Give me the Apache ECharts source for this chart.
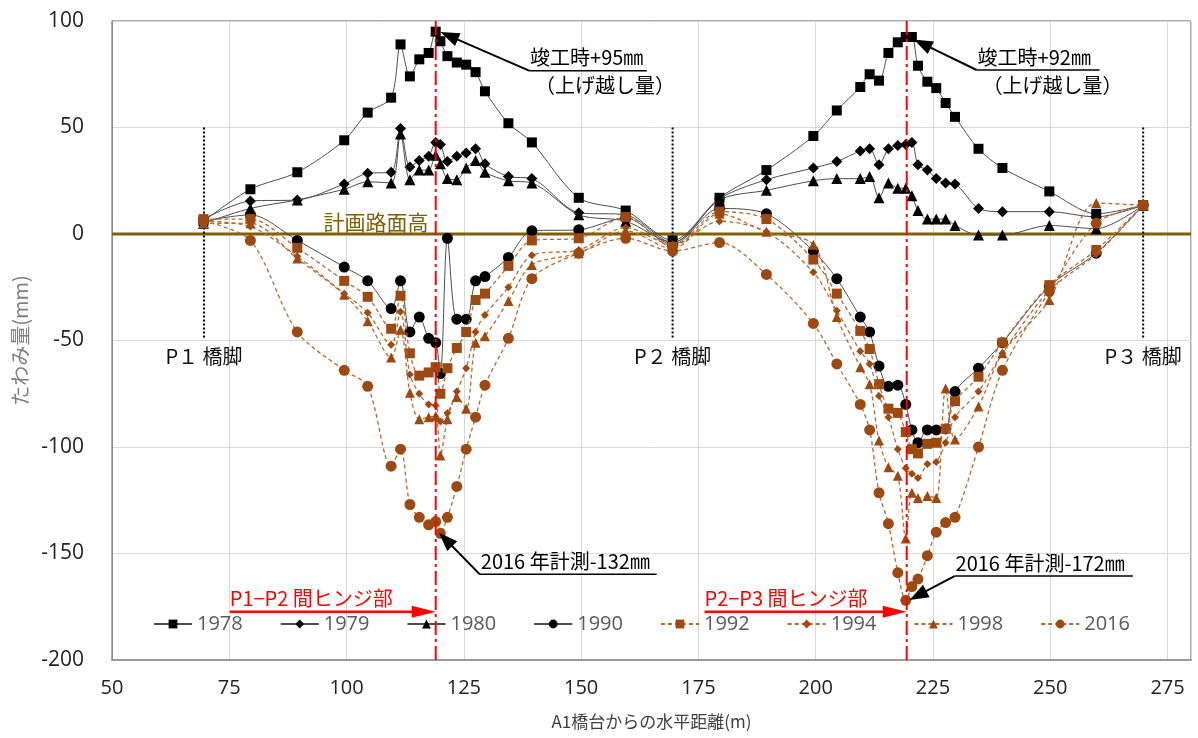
<!DOCTYPE html>
<html><head><meta charset="utf-8">
<script src="https://cdn.jsdelivr.net/npm/echarts@6/dist/echarts.min.js"></script>
<style>html,body{margin:0;padding:0;background:#fff}#c{width:1198px;height:738px}</style>
</head><body><div id="c"></div>
<script>
// ---- data ----
const xs = [69.5, 79.5, 89.5, 99.5, 104.5, 109.5, 111.5, 113.5, 115.5, 117.5, 119, 120, 121.5, 123.5, 125.5, 127.5, 129.5, 134.5, 139.5, 149.5, 159.5, 169.5, 179.5, 189.5, 199.5, 204.5, 209.5, 211.5, 213.5, 215.5, 217.5, 219.2, 220.5, 221.8, 223.8, 225.7, 227.7, 229.7, 234.7, 239.8, 249.8, 259.8, 269.8];
const y1978 = [6, 21, 29, 44, 57, 64, 89, 74, 82, 85, 95, 90.5, 83.5, 80.5, 79.5, 76, 67, 52, 43, 17, 11, -3, 17, 30, 46, 58, 69, 75, 72, 85, 90, 92.5, 92.5, 79, 71.5, 68.5, 61.5, 55, 40, 31, 20, 9.5, 13.5];
const y1979 = [7, 15.5, 16, 23.5, 28.5, 29, 49.5, 31.5, 34.5, 36.5, 43, 42, 34, 36.5, 38, 40, 33, 27, 26, 10, 9, -4, 16.5, 25.5, 31, 34, 39, 40, 32.5, 40, 41.5, 42, 43, 32.5, 30, 26, 24, 23.5, 12, 10.5, 10.5, 8, 13.5];
const y1980 = [5, 12, 16, 21, 24.5, 24, 47, 25.5, 30, 30, 37, 33, 26, 25.5, 31, 34.5, 29, 25, 24, 9, 6, -4, 16, 20.5, 25, 26, 26, 27, 17, 24, 21.5, 21.5, 18, 11, 7, 7, 7, 4, -0.5, -0.5, 4, 2.5, 13.5];
const y1990 = [6, 9, -3, -15.5, -22, -35, -22, -46, -39, -49, -51, -65.5, -2, -40, -40, -22, -20, -11, 1.5, 2, 7.5, -5, 12, 9.5, -8, -21, -39, -46, -62, -71.5, -71, -80, -92, -98, -92, -92, -91.5, -74, -63, -51, -24.5, -9, 13.5];
const y1992 = [7, 7, -6.5, -22, -29.5, -44.5, -29, -56, -66.5, -65, -62.5, -75, -63, -53.5, -46, -31, -28, -15, -3, -2, 8, -6, 10.5, 7, -12, -28, -45.5, -54, -70.5, -82, -84, -93, -101, -103, -98.5, -98, -91.5, -78.5, -67, -51, -24, -7.5, 13.5];
const y1994 = [6, 3.5, -10.5, -28, -37, -52, -36.5, -66, -75, -80, -80.5, -88, -84, -74, -63, -46, -38, -25, -10, -7.5, 3, -5, 6, 1, -18, -36, -55, -61, -76, -86, -101, -110, -112.5, -114.5, -108, -107, -98, -86, -74, -56, -26.5, -9.5, 13.5];
const y1998 = [5, 5, -11.5, -28.5, -41, -58, -45, -74.5, -87, -86, -85.5, -104, -87, -76.5, -82, -51, -48, -31.5, -14.5, -9, 1.5, -7, 9.5, 1, -5, -39, -62.5, -70.5, -97, -109.5, -113.5, -143, -121.5, -124, -123, -124, -72.5, -96.5, -81, -56, -31, 14.5, 13.5];
const y2016 = [6, -3, -46, -64, -71.5, -109, -101, -127, -133, -136.5, -135, -140.5, -133, -118.5, -101, -86, -71, -49, -21, -9, -2, -8, -4, -19, -42, -61, -80, -92, -121.5, -136, -159, -172, -165.5, -162, -151, -140, -135.5, -133, -100, -64, -27, 5, 13.5];
const years = ['1978', '1979', '1980', '1990', '1992', '1994', '1998', '2016'];
const piers = [{x: 69.6, label: 'P１ 橋脚'}, {x: 169.5, label: 'P２ 橋脚'}, {x: 269.8, label: 'P３ 橋脚'}];
const hinges = [119, 219.4];
const xMin = 50, xMax = 280, xStep = 25;
const yMin = -200, yMax = 100, yStep = 50;

const allY = [y1978, y1979, y1980, y1990, y1992, y1994, y1998, y2016];
const symbols = ['rect', 'diamond', 'triangle', 'circle', 'rect', 'diamond', 'triangle', 'circle'];
const sizes = [10, 11, 11, 11, 10, 8, 10, 11];

const BLACK = '#000000', BLINE = '#4d4d4d', BROWN = '#9c4a12', BRLINE = '#b8682f';
const CJK = '"Noto Sans CJK JP", sans-serif';
const NUM = '"Open Sans", "Noto Sans", sans-serif';

const series = years.map((yr, i) => {
  const brown = i >= 4;
  return {
    name: yr, type: 'line', smooth: 0.3,
    data: xs.map((x, k) => [x, allY[i][k]]),
    symbol: symbols[i], symbolSize: sizes[i],
    itemStyle: {color: brown ? BROWN : BLACK},
    lineStyle: {color: brown ? BRLINE : BLINE, width: brown ? 1.3 : 1, type: brown ? [4, 3] : 'solid'},
    z: 3 + i
  };
});

const chart = echarts.init(document.getElementById('c'));
chart.setOption({
  animation: false,
  backgroundColor: '#fff',
  grid: {left: 112, right: 7, top: 21, bottom: 78, show: true, borderColor: '#595959', borderWidth: 1},
  xAxis: {
    type: 'value', min: xMin, max: xMax, interval: xStep,
    name: 'A1橋台からの水平距離(m)', nameLocation: 'middle', nameGap: 53,
    nameTextStyle: {fontFamily: CJK, fontSize: 17, color: '#404040'},
    axisLine: {show: true, onZero: false, lineStyle: {color: '#9a9a9a', width: 2}},
    axisTick: {show: false},
    axisLabel: {fontFamily: NUM, fontSize: 20, color: '#222', margin: 18, showMaxLabel: false},
    splitLine: {lineStyle: {color: '#d9d9d9', width: 1}}
  },
  yAxis: {
    type: 'value', min: yMin, max: yMax, interval: yStep,
    name: 'たわみ量(mm)', nameLocation: 'middle', nameGap: 82,
    nameTextStyle: {fontFamily: CJK, fontSize: 20, color: '#7f7f7f'},
    axisLine: {show: true, lineStyle: {color: '#8c8c8c', width: 1}},
    axisTick: {show: false},
    axisLabel: {fontFamily: NUM, fontSize: 21, color: '#222', margin: 28},
    splitLine: {lineStyle: {color: '#d9d9d9', width: 1}}
  },
  legend: {
    data: years, left: 148, top: 609, orient: 'horizontal',
    itemWidth: 38, itemHeight: 11, itemGap: 37,
    textStyle: {fontFamily: NUM, fontSize: 20, color: '#595959', width: 50}
  },
  series: series
});

// ---- annotations via the axes' own scales ----
const P = (x, y) => chart.convertToPixel({gridIndex: 0}, [x, y]);
const g = [];
function seg(a, b, style, z) {
  g.push({type: 'line', silent: true, z: z, shape: {x1: a[0], y1: a[1], x2: b[0], y2: b[1]}, style: style});
}
function head(from, to, len, half, color, z) {
  const dx = to[0] - from[0], dy = to[1] - from[1], L = Math.hypot(dx, dy);
  const ux = dx / L, uy = dy / L, bx = to[0] - ux * len, by = to[1] - uy * len;
  g.push({type: 'polygon', silent: true, z: z, shape: {points: [[to[0], to[1]], [bx - uy * half, by + ux * half], [bx + uy * half, by - ux * half]]}, style: {fill: color}});
  return [bx + ux * 2, by + uy * 2];
}
function txt(p, s, o) {
  g.push({type: 'text', silent: true, z: 60, x: p[0], y: p[1], style: Object.assign({text: s, fill: '#000', font: '20px ' + CJK, align: 'left', verticalAlign: 'bottom'}, o || {})});
}

// planned road surface line (0)
const z0a = P(xMin, 0), z0b = P(xMax, 0);
seg(z0a, z0b, {stroke: '#7f6000', lineWidth: 3}, 2);
txt(P(106.3, 0).map((v, i) => i ? v - 1 : v), '計画路面高', {fill: '#7f6000', font: '21px ' + CJK, align: 'center'});

// piers
piers.forEach(pr => {
  seg(P(pr.x, 50), P(pr.x, -49), {stroke: '#000', lineWidth: 2, lineDash: [2, 2]}, 2);
  txt(P(pr.x, -57.5), pr.label, {font: '20px ' + CJK, align: 'center', verticalAlign: 'middle', fill: '#111'});
});

// hinges (red dash-dot)
hinges.forEach(h => seg(P(h, yMax), P(h, yMin), {stroke: '#ff0000', lineWidth: 2, lineDash: [14, 4, 3, 4]}, 40));

// red hinge labels + arrows
[[75.1, hinges[0], 'P1−P2 間ヒンジ部'], [176.3, hinges[1], 'P2−P3 間ヒンジ部']].forEach(([x0, x1, s]) => {
  const a = P(x0, -177.3), b = P(x1, -177.3);
  const end = head(a, b, 24, 6, '#ff0000', 45);
  seg(a, end, {stroke: '#ff0000', lineWidth: 2.5}, 45);
  txt([a[0], a[1] - 3], s, {fill: '#ff0000', font: '20px ' + CJK});
});

// black callouts
function callout(tip, ux0, ux1, uy, lines) {
  const a = P(ux0, uy), b = P(ux1, uy), t = P(tip[0], tip[1]);
  seg(a, b, {stroke: '#000', lineWidth: 1.5}, 50);
  const end = head(a, t, 19, 7, '#000', 50);
  seg(a, end, {stroke: '#000', lineWidth: 2}, 50);
  txt([a[0] + 1, a[1] - 3], lines[0]);
  if (lines[1]) txt([a[0] + 6, a[1] + 5], lines[1], {verticalAlign: 'top'});
}
callout([120.0, 94.8], 138.9, 164.0, 76.7, ['竣工時+95㎜', '（上げ越し量）']);
callout([220.9, 91.3], 234.3, 260.5, 77.0, ['竣工時+92㎜', '（上げ越し量）']);
callout([119.7, -140.2], 128.4, 166.1, -159.8, ['2016 年計測-132㎜']);
callout([220.0, -171.8], 229.6, 267.6, -160.6, ['2016 年計測-172㎜']);

chart.setOption({graphic: {elements: g}});
</script></body></html>
